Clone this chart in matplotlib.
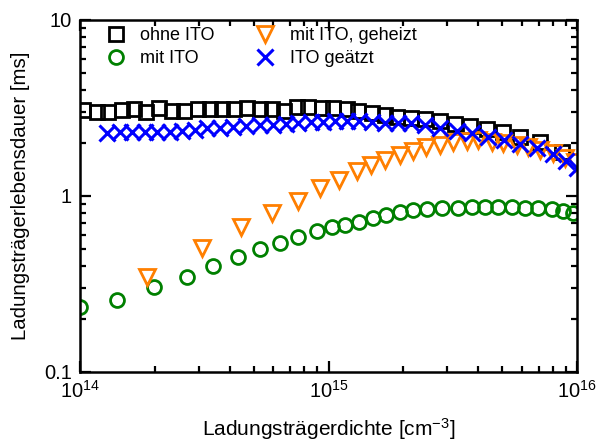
import matplotlib
matplotlib.use("Agg")
import matplotlib.pyplot as plt
from matplotlib.ticker import LogLocator, FixedLocator, FixedFormatter, NullFormatter

plt.rcParams["font.family"] = ["Liberation Sans", "DejaVu Sans"]
plt.rcParams["mathtext.default"] = "regular"

# carrier density [cm^-3] and lifetime [ms] per sample
x_ohne = [1.03e14, 1.17e14, 1.30e14, 1.48e14, 1.65e14, 1.84e14, 2.08e14, 2.35e14, 2.62e14,
          2.98e14, 3.34e14, 3.73e14, 4.17e14, 4.70e14, 5.30e14, 5.92e14, 6.62e14, 7.47e14,
          8.27e14, 9.41e14, 1.04e15, 1.19e15, 1.31e15, 1.50e15, 1.69e15, 1.89e15, 2.15e15,
          2.45e15, 2.81e15, 3.23e15, 3.71e15, 4.34e15, 5.04e15, 5.90e15, 7.10e15, 8.70e15]
tau_ohne = [3.08, 3.00, 3.00, 3.08, 3.12, 3.00, 3.16, 3.04, 3.04, 3.12, 3.12, 3.12, 3.12,
            3.16, 3.12, 3.12, 3.04, 3.20, 3.20, 3.16, 3.16, 3.12, 3.04, 2.96, 2.89, 2.81,
            2.77, 2.74, 2.67, 2.57, 2.50, 2.40, 2.31, 2.16, 2.03, 1.78]

x_mit = [1.00e14, 1.41e14, 1.99e14, 2.70e14, 3.43e14, 4.32e14, 5.30e14, 6.38e14, 7.54e14,
         8.99e14, 1.03e15, 1.17e15, 1.33e15, 1.51e15, 1.70e15, 1.94e15, 2.19e15, 2.49e15,
         2.86e15, 3.32e15, 3.78e15, 4.26e15, 4.81e15, 5.47e15, 6.18e15, 6.97e15, 7.93e15,
         8.79e15, 9.63e15]
tau_mit = [0.234, 0.256, 0.304, 0.347, 0.400, 0.450, 0.500, 0.541, 0.585, 0.633, 0.667,
           0.684, 0.712, 0.750, 0.780, 0.811, 0.833, 0.844, 0.855, 0.855, 0.866, 0.866,
           0.866, 0.866, 0.855, 0.855, 0.844, 0.822, 0.800]

x_geheizt = [1.86e14, 3.10e14, 4.44e14, 5.92e14, 7.54e14, 9.24e14, 1.10e15, 1.30e15, 1.48e15,
             1.69e15, 1.94e15, 2.19e15, 2.47e15, 2.81e15, 3.17e15, 3.61e15, 4.00e15, 4.55e15,
             5.04e15, 5.74e15, 6.35e15, 7.10e15, 8.01e15, 8.95e15, 9.82e15]
tau_geheizt = [0.347, 0.507, 0.667, 0.800, 0.937, 1.11, 1.23, 1.39, 1.50, 1.60, 1.71, 1.80,
               1.90, 1.95, 2.03, 2.05, 2.08, 2.03, 2.00, 1.95, 1.90, 1.83, 1.76, 1.64, 1.56]

x_geaetzt = [1.28e14, 1.45e14, 1.62e14, 1.83e14, 2.04e14, 2.30e14, 2.57e14, 2.90e14, 3.24e14,
             3.66e14, 4.13e14, 4.66e14, 5.30e14, 5.98e14, 6.75e14, 7.54e14, 8.50e14, 9.50e14,
             1.06e15, 1.19e15, 1.33e15, 1.50e15, 1.69e15, 1.90e15, 2.15e15, 2.45e15, 2.81e15,
             3.29e15, 3.78e15, 4.39e15, 5.09e15, 5.90e15, 6.90e15, 8.01e15, 9.03e15, 1.00e16]
tau_geaetzt = [2.28, 2.31, 2.31, 2.31, 2.31, 2.31, 2.34, 2.37, 2.43, 2.43, 2.47, 2.50, 2.53,
               2.53, 2.57, 2.60, 2.63, 2.63, 2.67, 2.67, 2.67, 2.63, 2.60, 2.60, 2.60, 2.53,
               2.43, 2.34, 2.28, 2.16, 2.08, 1.97, 1.87, 1.73, 1.58, 1.44]

fig = plt.figure(figsize=(5.98, 4.44), dpi=100)
ax = fig.add_axes([0.1338, 0.1622, 0.8311, 0.7928])

mk = dict(linestyle="none", markerfacecolor="none", markeredgewidth=2)
ax.plot(x_ohne, tau_ohne, marker="s", color="black", markersize=9.5, label="ohne ITO", **mk)
ax.plot(x_mit, tau_mit, marker="o", color="#008000", markersize=10, label="mit ITO", **mk)
ax.plot(x_geheizt, tau_geheizt, marker="v", color="#FF7F00", markersize=12,
        label="mit ITO, geheizt", **mk)
ax.plot(x_geaetzt, tau_geaetzt, marker="x", color="#0000FF", markersize=11.5,
        label="ITO geätzt", linestyle="none", markeredgewidth=2.2)

ax.set_xscale("log")
ax.set_yscale("log")
ax.set_xlim(1e14, 1e16)
ax.set_ylim(0.1, 10)

ax.xaxis.set_major_locator(FixedLocator([1e14, 1e15, 1e16]))
ax.xaxis.set_major_formatter(FixedFormatter(["$10^{14}$", "$10^{15}$", "$10^{16}$"]))
ax.yaxis.set_major_locator(FixedLocator([0.1, 1, 10]))
ax.yaxis.set_major_formatter(FixedFormatter(["0.1", "1", "10"]))
for axis in (ax.xaxis, ax.yaxis):
    axis.set_minor_locator(LogLocator(base=10, subs=range(2, 10)))
    axis.set_minor_formatter(NullFormatter())

ax.tick_params(which="both", direction="in", top=True, right=True, width=1.6,
               labelsize=14.5, pad=6)
ax.tick_params(which="major", length=8)
ax.tick_params(which="minor", length=4.5)
for sp in ax.spines.values():
    sp.set_linewidth(1.8)

ax.set_xlabel("Ladungsträgerdichte [cm$^{-3}$]", fontsize=15, labelpad=10)
ax.set_ylabel("Ladungsträgerlebensdauer [ms]", fontsize=14.7, labelpad=10)

ax.legend(ncol=2, frameon=False, fontsize=13, loc="upper left",
          bbox_to_anchor=(0.036, 1.006), borderpad=0, handlelength=1.0,
          handletextpad=0.85, columnspacing=2.3, labelspacing=0.35)

fig.savefig("out.png", dpi=100)
